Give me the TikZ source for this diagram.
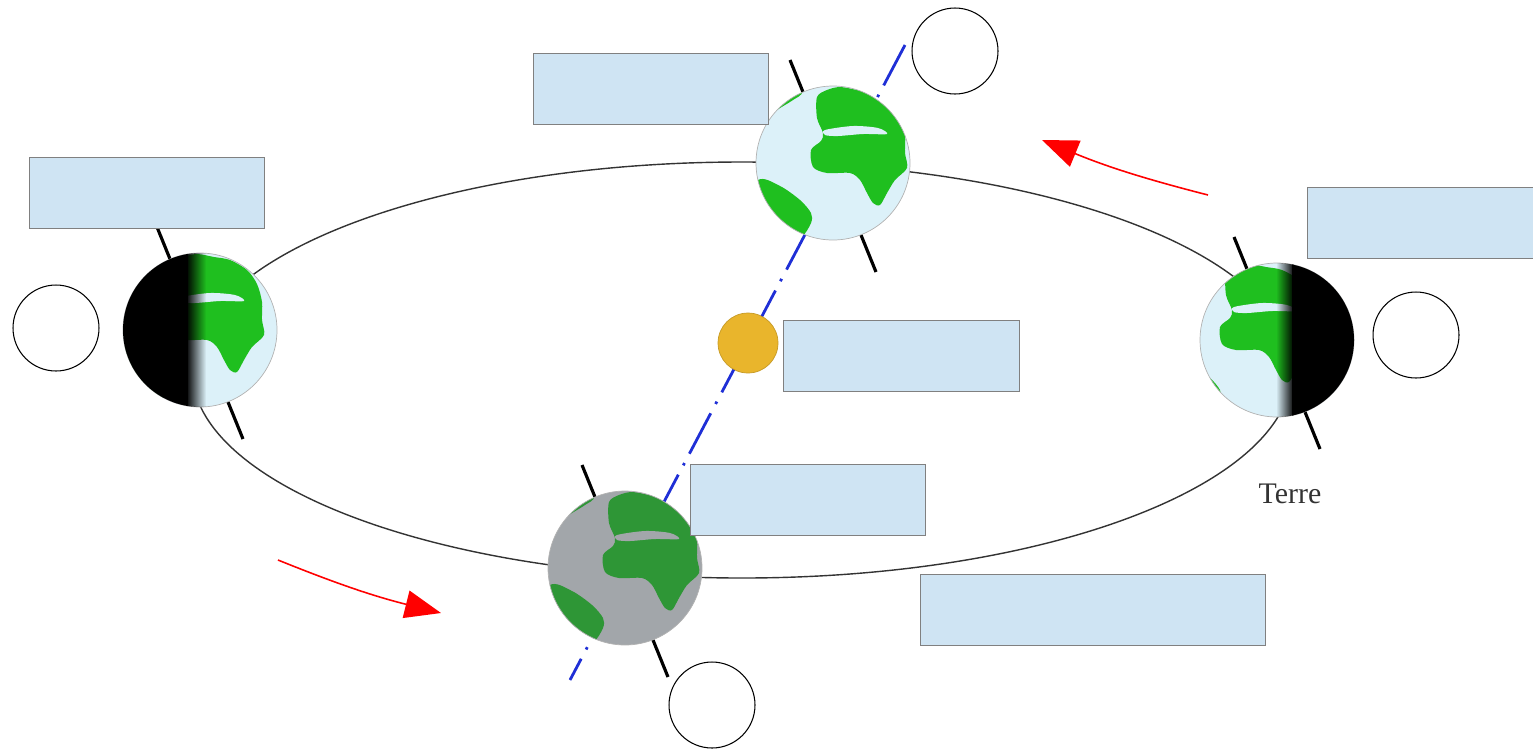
\documentclass[tikz,border=0pt]{standalone}
\usepackage{fontspec}
\setmainfont{Liberation Serif}
\usetikzlibrary{arrows.meta,fadings}

\definecolor{boxblue}{HTML}{CFE4F3}
\definecolor{daysea}{HTML}{DCF1F9}
\definecolor{dayland}{HTML}{1FBF1F}
\definecolor{greysea}{HTML}{A2A6AA}
\definecolor{greyland}{HTML}{2E9636}
\definecolor{sunfill}{HTML}{E9B52C}
\definecolor{axisblue}{HTML}{1F2FD6}

\newcommand{\earthglobe}[6]{%
  \draw[earth axis] (#2-43,#3-103) -- (#2+43,#3+109);
  \node[globe, fill=#4] (#1) at (#2,#3) {};
  \begin{scope}
    \clip (#2,#3) circle (77);
    \begin{scope}[shift={(#2+#6,#3)}]
      \fill[#5] plot[smooth cycle] coordinates {(-16,-66) (-6,-73) (7,-76) (24,-73) (40,-70) (57,-60) (67,-46) (72,-28) (72,-10) (74,5) (62,17) (54,30) (47,42) (40,40) (34,30) (27,17) (17,10) (-6,10) (-20,4) (-22,-13) (-12,-22) (-10,-30) (-16,-45)};
      \fill[#4] plot[smooth cycle] coordinates {(-8,-33) (20,-37) (45,-35) (54,-29) (30,-29) (5,-27) (-8,-28)};
      \fill[#5] plot[smooth cycle] coordinates {(-75,17) (-53,23) (-33,37) (-22,50) (-22,60) (-32,75) (-55,90) (-95,50)};
      \fill[#5] plot[smooth cycle] coordinates {(-73,-40) (-56,-53) (-40,-63) (-30,-72) (-30,-100) (-100,-100) (-100,-40)};
    \end{scope}
  \end{scope}
  \draw[gray!60,line width=0.4pt] (#1) circle (77);
}

\begin{document}
\begin{tikzpicture}[x=0.02cm,y=-0.02cm,
    orbit/.style={gray!40!black,line width=0.8pt},
    earth axis/.style={line width=1.8pt},
    globe/.style={circle,inner sep=0pt,minimum size=3.08cm},
    label box/.style={draw=gray,fill=boxblue,line width=0.6pt,anchor=north west,minimum height=1.42cm},
    blank circle/.style={draw,circle,fill=white,line width=0.6pt,inner sep=0pt,minimum size=1.72cm},
    move arrow/.style={red,line width=0.9pt,-{Triangle[length=0.72cm,width=0.56cm]}}]
  \useasboundingbox (0,0) rectangle (1533,748);
  \draw[orbit] (742,370) ellipse (550 and 208);
  \coordinate (axN) at (905,45);
  \coordinate (axS) at (570,680);
  \draw[axisblue,line width=1.6pt,dash pattern=on 26pt off 6pt on 1.5pt off 6pt] (axN) -- (axS);
  \node[circle,fill=sunfill,draw=sunfill!85!black,minimum size=1.2cm] (sun) at (748,343) {};
  \earthglobe{eLeft}{200}{330}{daysea}{dayland}{-10}
  \earthglobe{eTop}{833}{163}{daysea}{dayland}{0}
  \earthglobe{eRight}{1277}{340}{daysea}{dayland}{-35}
  \earthglobe{eBottom}{625}{568}{greysea}{greyland}{0}
  \begin{scope}
    \clip (eLeft) circle (77);
    \fill[black] (110,240) rectangle (188,420);
    \fill[black,path fading=east] (186,240) rectangle (206,420);
  \end{scope}
  \begin{scope}
    \clip (eRight) circle (77);
    \fill[black,path fading=west] (1276,250) rectangle (1294,430);
    \fill[black] (1292,250) rectangle (1360,430);
  \end{scope}
  \node[text=black!80,font=\fontsize{17}{20}\selectfont] (terre) at (1290,494) {Terre};
  \coordinate (arA1) at (278,560);
  \coordinate (arA2) at (441,613);
  \draw[move arrow] (arA1) to[bend right=4] (arA2);
  \coordinate (arB1) at (1208,195);
  \coordinate (arB2) at (1042,140);
  \draw[move arrow] (arB1) to[bend left=4] (arB2);
  \node[label box,minimum width=4.7cm] (boxTop) at (533,53) {};
  \node[label box,minimum width=4.7cm] (boxLeft) at (29,157) {};
  \node[label box,minimum width=4.6cm] (boxRight) at (1307,187) {};
  \node[label box,minimum width=4.72cm] (boxSun) at (783,320) {};
  \node[label box,minimum width=4.7cm] (boxMid) at (690,464) {};
  \node[label box,minimum width=6.9cm] (boxLow) at (920,574) {};
  \node[blank circle] (cTop) at (955,51) {};
  \node[blank circle] (cLeft) at (56,328) {};
  \node[blank circle] (cRight) at (1416,335) {};
  \node[blank circle] (cBottom) at (712,705) {};
\end{tikzpicture}
\end{document}
